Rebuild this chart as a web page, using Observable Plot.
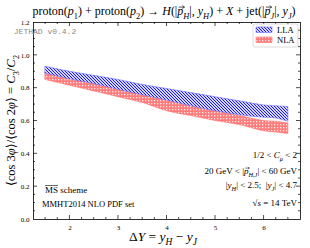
<!DOCTYPE html>
<html><head><meta charset="utf-8">
<script src="https://cdn.jsdelivr.net/npm/d3@7"></script>
<script src="https://cdn.jsdelivr.net/npm/@observablehq/plot@0.6"></script>
<style>body{margin:0;background:#fff}</style>
</head><body><div id="chart"></div>
<script>
const deltaY   = [1.5, 2, 2.5, 3, 3.5, 4, 4.5, 5, 5.5, 6, 6.25, 6.5];
const llaHigh  = [0.93, 0.90, 0.875, 0.85, 0.82, 0.795, 0.77, 0.745, 0.72, 0.695, 0.69, 0.685];
const llaLow   = [0.89, 0.855, 0.825, 0.79, 0.757, 0.725, 0.69, 0.66, 0.635, 0.62, 0.615, 0.595];
const nlaHigh  = [0.895, 0.86, 0.825, 0.792, 0.758, 0.725, 0.692, 0.66, 0.63, 0.6, 0.595, 0.585];
const nlaLow   = [0.85, 0.815, 0.78, 0.745, 0.71, 0.66, 0.63, 0.60, 0.575, 0.537, 0.53, 0.52];
const xTicks = [2, 3, 4, 5, 6];
const yTicks = [0, 0.2, 0.4, 0.6, 0.8, 1.0, 1.2];
const seriesNames = ["LLA", "NLA"];

const lla = deltaY.map((x, i) => ({x, lo: llaLow[i], hi: llaHigh[i]}));
const nla = deltaY.map((x, i) => ({x, lo: nlaLow[i], hi: nlaHigh[i]}));

const serif = "'Liberation Serif', 'DejaVu Serif', serif";
const W = 310, H = 248;

const chart = Plot.plot({
  width: W, height: H,
  marginLeft: 33, marginRight: 10, marginTop: 22, marginBottom: 29,
  style: {background: "#fff", fontFamily: serif},
  x: {domain: [1.25, 6.75]},
  y: {domain: [0, 1.2]},
  marks: [
    Plot.areaY(nla, {x: "x", y1: "lo", y2: "hi", fill: "url(#patNLA)", stroke: "#ff6f6f", strokeWidth: 0.6, curve: "catmull-rom"}),
    Plot.areaY(lla, {x: "x", y1: "lo", y2: "hi", fill: "url(#patLLA)", stroke: "#6f6fff", strokeWidth: 0.6, curve: "catmull-rom"}),
    Plot.frame({stroke: "#000", strokeWidth: 0.8}),
    Plot.axisX(xTicks, {tickSize: 0, tickPadding: 6, fontSize: 7, label: null, fontFamily: serif}),
    Plot.axisY(yTicks, {tickSize: 0, tickPadding: 4, fontSize: 7, label: null, tickFormat: d3.format(".1f"), fontFamily: serif})
  ]
});
document.getElementById("chart").appendChild(chart);

const svg = d3.select(chart);
const defs = svg.insert("defs", ":first-child");
const pl = defs.append("pattern").attr("id", "patLLA").attr("patternUnits", "userSpaceOnUse")
  .attr("width", 3).attr("height", 3);
pl.append("rect").attr("width", 3).attr("height", 3).attr("fill", "#d4d4ff");
pl.append("path").attr("d", "M0,0L3,3M-1,2L1,4M2,-1L4,1").attr("stroke", "#1818ff").attr("stroke-width", 1);
const pn = defs.append("pattern").attr("id", "patNLA").attr("patternUnits", "userSpaceOnUse")
  .attr("width", 3).attr("height", 3);
pn.append("rect").attr("width", 3).attr("height", 3).attr("fill", "#ff7c7c");
pn.append("rect").attr("x", 1).attr("y", 1).attr("width", 1.3).attr("height", 1.3).attr("fill", "#ffeaea");

const sx = chart.scale("x"), sy = chart.scale("y");
const x0 = sx.range[0], x1 = sx.range[1];
const yb = sy.range[0], yt = sy.range[1];
const tg = svg.append("g").attr("stroke", "#000").attr("stroke-width", 0.7);
const xMinor = d3.range(1.25, 6.76, 0.25);
const yMinor = d3.range(0, 1.2001, 0.05);
for (const v of xMinor) {
  const major = Math.abs(v - Math.round(v)) < 1e-6;
  const L = major ? 4 : 2, px = sx.apply(v);
  if (v <= 1.26 || v >= 6.74) continue;
  tg.append("line").attr("x1", px).attr("x2", px).attr("y1", yb).attr("y2", yb - L);
  tg.append("line").attr("x1", px).attr("x2", px).attr("y1", yt).attr("y2", yt + L);
}
for (const v of yMinor) {
  const major = Math.abs(v * 5 - Math.round(v * 5)) < 1e-6;
  const L = major ? 4 : 2, py = sy.apply(v);
  if (v < 0.01 || v > 1.19) continue;
  tg.append("line").attr("x1", x0).attr("x2", x0 + L).attr("y1", py).attr("y2", py);
  tg.append("line").attr("x1", x1).attr("x2", x1 - L).attr("y1", py).attr("y2", py);
}

// rich text helper: styles "i" italic, "sub", "sup", "vec" (draw vector arrow over glyph)
function rich(x, y, parts, size, anchor, extra) {
  const g = svg.append("g");
  if (extra) extra(g);
  const t = g.append("text").attr("x", x).attr("y", y).attr("font-size", size)
    .attr("font-family", serif).attr("font-weight", "normal")
    .attr("text-anchor", anchor || "start").attr("fill", "#000");
  let shift = 0, idx = 0;
  const vecs = [];
  for (const p of parts) {
    const [s, st] = typeof p === "string" ? [p, ""] : p;
    const sp = t.append("tspan").text(s);
    let target = 0;
    if (st.includes("sub")) { target = size * 0.3; sp.attr("font-size", size * 0.7); }
    if (st.includes("sup")) { target = -size * 0.35; sp.attr("font-size", size * 0.7); }
    if (st.includes("i")) sp.attr("font-style", "italic");
    if (target !== shift) { sp.attr("dy", target - shift); shift = target; }
    if (st.includes("vec")) vecs.push(idx);
    idx += s.length;
  }
  for (const k of vecs) {
    const e = t.node().getExtentOfChar(k);
    const ax0 = e.x + size * 0.12, ax1 = e.x + e.width + size * 0.1, ay = y - size * 0.66;
    const h = size * 0.12;
    g.append("path").attr("d", `M${ax0},${ay}L${ax1},${ay}M${ax1 - h * 1.4},${ay - h}L${ax1},${ay}L${ax1 - h * 1.4},${ay + h}`)
      .attr("stroke", "#000").attr("stroke-width", size * 0.055).attr("fill", "none");
  }
  return t;
}
const pvec = ["p", "i vec"];

// Title
rich(164, 15, ["proton(", ["p", "i"], ["1", "sub"], ") + proton(", ["p", "i"], ["2", "sub"], ") \u2192 ",
  ["H", "i"], "(|", pvec, ["H", "sub i"], "|, ", ["y", "i"], ["H", "sub i"], ") + ", ["X", "i"],
  " + jet(|", pvec, ["J", "sub i"], "|, ", ["y", "i"], ["J", "sub i"], ")"], 12, "middle");

// X label
rich(163, 241, ["\u0394", ["Y", "i"], " = ", ["y", "i"], ["H", "sub i"], " \u2212 ", ["y", "i"], ["J", "sub i"]], 13.5, "middle");

// Y label
rich(0, 0, ["\u27E8cos 3", ["\u03C6", "i"], "\u27E9/\u27E8cos 2", ["\u03C6", "i"], "\u27E9 = ", ["C", "i"], ["3", "sub"], "/", ["C", "i"], ["2", "sub"]], 12.5, "middle",
  g => g.attr("transform", `translate(15,${(yb + yt) / 2}) rotate(-90)`));

// JETHAD
svg.append("text").attr("x", 45).attr("y", 34).attr("font-family", "'Liberation Mono', 'DejaVu Sans Mono', monospace")
  .attr("font-size", 8).attr("fill", "#888").text("JETHAD v0.4.2");

// Annotations right
const rx = 297;
rich(rx, 158, ["1/2 < ", ["C", "i"], ["\u03BC", "sub i"], " < 2"], 9, "end");
rich(rx, 174, ["20 GeV < |", pvec, ["H,J", "sub i"], "| < 60 GeV"], 9, "end");
rich(rx, 188, ["|", ["y", "i"], ["H", "sub i"], "| < 2.5;  |", ["y", "i"], ["J", "sub i"], "| < 4.7"], 9, "end");
rich(rx, 206, ["\u221A", ["s", "i"], " = 14 TeV"], 9, "end");
// left annotations
rich(45, 193, ["MS scheme"], 9, "start");
svg.append("line").attr("x1", 45).attr("x2", 58).attr("y1", 185.5).attr("y2", 185.5).attr("stroke", "#000").attr("stroke-width", 0.6);
rich(42, 207, ["MMHT2014 NLO PDF set"], 8.5, "start");

// Legend
const lg = svg.append("g");
lg.append("rect").attr("x", 253).attr("y", 24).attr("width", 45).attr("height", 23).attr("rx", 2)
  .attr("fill", "#fff").attr("stroke", "#ccc").attr("stroke-width", 0.7);
const pats = ["url(#patLLA)", "url(#patNLA)"], edges = ["#6f6fff", "#ff6f6f"];
seriesNames.forEach((n, i) => {
  const y = 27 + i * 10;
  lg.append("rect").attr("x", 256).attr("y", y).attr("width", 16).attr("height", 5.5)
    .attr("fill", pats[i]).attr("stroke", edges[i]).attr("stroke-width", 0.6);
  rich(277, y + 5.5, [n], 8.5, "start");
});
</script></body></html>
